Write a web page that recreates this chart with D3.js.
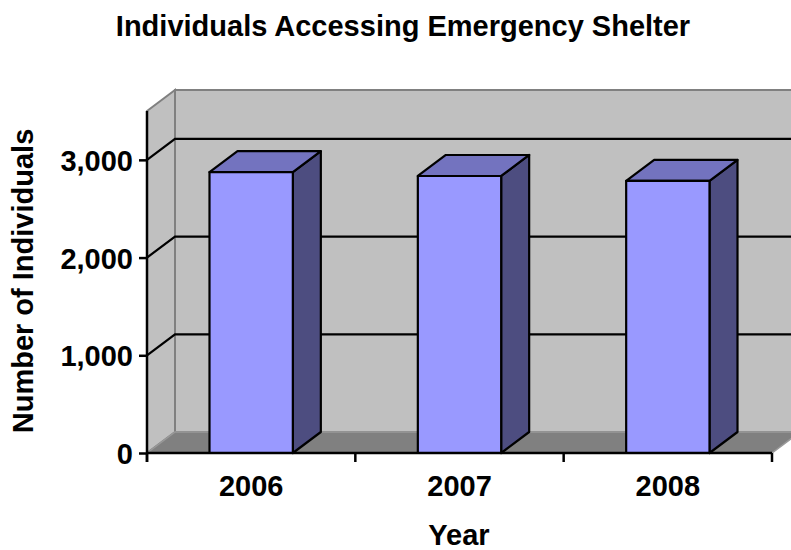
<!DOCTYPE html>
<html>
<head>
<meta charset="utf-8">
<script src="https://cdn.jsdelivr.net/npm/d3@7"></script>
<style>
  body { margin: 0; background: #fff; }
  text { font-family: "Liberation Sans", Arial, sans-serif; font-weight: bold; fill: #000; }
</style>
</head>
<body>
<svg width="791" height="550"></svg>
<script>
//chart data
var years = ['2006', '2007', '2008'];
var individuals = [2875, 2835, 2785];
var yTicks = [0, 1000, 2000, 3000];

//3d depth of the walls and bars
const DX = 28;
const DY = -21;

var svg = d3.select('svg');

//scales, front plane
var x = d3.scaleBand()
          .domain(years)
          .range([147, 772])
          .paddingInner(0.6)
          .paddingOuter(0.3);

var y = d3.scaleLinear()
          .domain([0, 3500])
          .range([453, 111]);

var left = x.range()[0], right = x.range()[1];
var step = x.step();

//back wall
svg.append('rect')
   .attr('x', left + DX).attr('y', y(3500) + DY)
   .attr('width', 791 - left - DX + 20).attr('height', y(0) - y(3500))
   .attr('fill', '#c0c0c0')
   .attr('stroke', '#808080').attr('stroke-width', 2);

//left wall
svg.append('path')
   .attr('d', 'M' + left + ',' + y(3500) + 'L' + (left + DX) + ',' + (y(3500) + DY) +
              'L' + (left + DX) + ',' + (y(0) + DY) + 'L' + left + ',' + y(0) + 'Z')
   .attr('fill', '#c0c0c0')
   .attr('stroke', '#808080').attr('stroke-width', 2);

//gridlines on back wall and the diagonal on the left wall
yTicks.filter(function(d) { return d > 0; }).forEach(function(d) {
    svg.append('path')
       .attr('d', 'M' + left + ',' + y(d) + 'L' + (left + DX) + ',' + (y(d) + DY) + 'L' + 800 + ',' + (y(d) + DY))
       .attr('fill', 'none')
       .attr('stroke', '#000').attr('stroke-width', 2.2);
});

//floor
svg.append('path')
   .attr('d', 'M' + left + ',' + y(0) + 'L' + (left + DX) + ',' + (y(0) + DY) +
              'L' + (right + DX) + ',' + (y(0) + DY) + 'L' + right + ',' + y(0) + 'Z')
   .attr('fill', '#808080')
   .attr('stroke', '#999').attr('stroke-width', 1.5);

//bars: side, top, front
var bars = svg.selectAll('.bar')
    .data(years.map(function(d, i) { return {year: d, value: individuals[i]}; }))
    .enter()
    .append('g')
    .attr('class', 'bar')
    .attr('stroke', '#000')
    .attr('stroke-width', 2.2)
    .attr('stroke-linejoin', 'round');

bars.append('path')
    .attr('fill', '#4d4d80')
    .attr('d', function(d) {
        var x1 = x(d.year) + x.bandwidth();
        return 'M' + x1 + ',' + y(d.value) + 'L' + (x1 + DX) + ',' + (y(d.value) + DY) +
               'L' + (x1 + DX) + ',' + (y(0) + DY) + 'L' + x1 + ',' + y(0) + 'Z';
    });

bars.append('path')
    .attr('fill', '#7373bf')
    .attr('d', function(d) {
        var x0 = x(d.year), x1 = x0 + x.bandwidth();
        return 'M' + x0 + ',' + y(d.value) + 'L' + x1 + ',' + y(d.value) +
               'L' + (x1 + DX) + ',' + (y(d.value) + DY) + 'L' + (x0 + DX) + ',' + (y(d.value) + DY) + 'Z';
    });

bars.append('rect')
    .attr('fill', '#9999ff')
    .attr('x', function(d) { return x(d.year); })
    .attr('y', function(d) { return y(d.value); })
    .attr('width', x.bandwidth())
    .attr('height', function(d) { return y(0) - y(d.value); });

//y axis
var yAxis = svg.append('g')
   .attr('transform', 'translate(' + left + ',0)')
   .call(d3.axisLeft(y)
           .tickValues(yTicks)
           .tickFormat(d3.format(','))
           .tickSize(8)
           .tickSizeOuter(0)
           .tickPadding(6));
yAxis.select('.domain').attr('stroke-width', 2.5).attr('d', 'M0,' + y(3500) + 'V' + (y(0) + 9));
yAxis.selectAll('.tick line').attr('stroke-width', 2.5);
yAxis.selectAll('.tick text').attr('font-size', 29).attr('dy', '0.36em').style('font-family', null);

//x axis: labels under the bands, ticks on category boundaries
var xAxis = svg.append('g')
   .attr('transform', 'translate(0,' + y(0) + ')')
   .call(d3.axisBottom(x).tickSize(0).tickPadding(22));
xAxis.select('.domain').attr('stroke-width', 2.5).attr('d', 'M' + left + ',0H' + right);
xAxis.selectAll('.tick text').attr('font-size', 29).style('font-family', null);

d3.range(years.length + 1).forEach(function(i) {
    xAxis.append('line')
         .attr('x1', left + i * step).attr('x2', left + i * step)
         .attr('y1', 0).attr('y2', 9)
         .attr('stroke', '#000').attr('stroke-width', 2.5);
});

//title and axis titles
svg.append('text')
   .attr('x', 403).attr('y', 36)
   .attr('text-anchor', 'middle')
   .attr('font-size', 29)
   .text('Individuals Accessing Emergency Shelter');

svg.append('text')
   .attr('x', 459).attr('y', 545)
   .attr('text-anchor', 'middle')
   .attr('font-size', 29)
   .text('Year');

svg.append('text')
   .attr('transform', 'translate(33,281) rotate(-90)')
   .attr('text-anchor', 'middle')
   .attr('font-size', 29)
   .text('Number of Individuals');
</script>
</body>
</html>
